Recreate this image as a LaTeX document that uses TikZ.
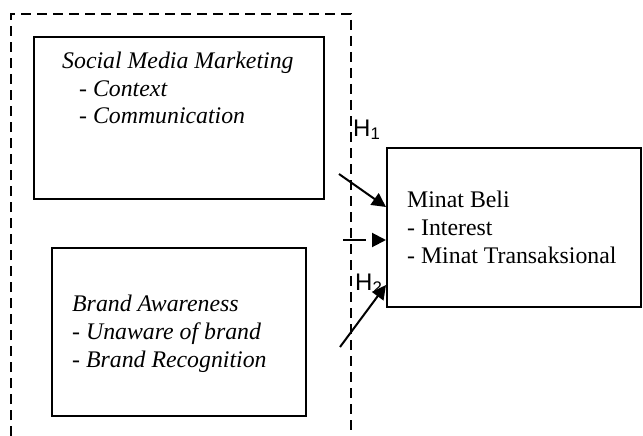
\documentclass[tikz,border=0pt]{standalone}
\usepackage{fontspec}
\setmainfont{Liberation Serif}
\setsansfont{Liberation Sans}
\usetikzlibrary{arrows.meta}

\tikzset{
  var/.style = {draw, line width=2pt, inner sep=0pt, anchor=north west},
  txt/.style = {anchor=base west, align=left, inner sep=0pt,
                font=\fontsize{23.8}{27.8}\selectfont},
  itxt/.style = {txt, font=\fontsize{23.8}{27.8}\selectfont\itshape},
  hyp/.style = {-{Triangle[length=14pt,width=14pt]}, line width=2pt},
  hlab/.style = {anchor=base west, inner sep=0pt,
                 font=\sffamily\fontsize{24}{24}\selectfont}
}

\begin{document}
\begin{tikzpicture}[x=1pt, y=-1pt]
\useasboundingbox (0,0) rectangle (643,436);
% open dashed frame round the two independent variables
\draw [dash pattern=on 10pt off 6pt, line width=1.3pt]
  (11,436) -- (11,14) -- (351,14) -- (351,436);

\node (smm) [var, minimum width=290pt, minimum height=162pt] at (33,36) {};
\node (ba)  [var, minimum width=254pt, minimum height=168pt] at (51,247) {};
\node (mb)  [var, minimum width=254pt, minimum height=159pt] at (386,147) {};

% text anchors sit on the last baseline
\node (smmt) [itxt] at (62,124) {Social Media Marketing\\
  \hspace*{17pt}- Context\\ \hspace*{17pt}- Communication};
\node (bat) [itxt] at (72,367) {Brand Awareness\\
  - Unaware of brand\\ - Brand Recognition};
\node (mbt) [txt] at (407,263) {Minat Beli\\ - Interest\\ - Minat Transaksional};

\node (h1) [hlab] at (353,136) {H\textsubscript{1}};
\node (h2) [hlab] at (355,290) {H\textsubscript{2}};

\coordinate (s1) at (339,174);
\coordinate (s0) at (343,240);
\coordinate (s2) at (340,347);
\draw [hyp] (s1) -- (mb.west |- 0,207);
\draw [hyp, dash pattern=on 23pt off 30pt] (s0) -- (mb.west |- s0);
\draw [hyp] (s2) -- (mb.west |- 0,285);
\end{tikzpicture}
\end{document}
